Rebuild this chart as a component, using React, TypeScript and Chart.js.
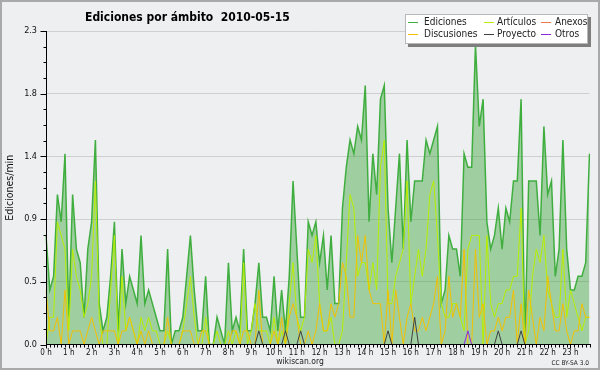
import React, { useEffect, useRef } from 'react';
import { Chart, registerables } from 'chart.js';

Chart.register(...registerables);

const FONT = '"DejaVu Sans Condensed", "DejaVu Sans", sans-serif';
const BG = '#eeeff1';

const TITLE = 'Ediciones por ámbito  2010-05-15';
const Y_TITLE = 'Ediciones/min';
const SOURCE = 'wikiscan.org';
const LICENSE = 'CC BY-SA 3.0';

const HOUR_LABELS = ['0 h', '1 h', '2 h', '3 h', '4 h', '5 h', '6 h', '7 h', '8 h', '9 h', '10 h', '11 h',
  '12 h', '13 h', '14 h', '15 h', '16 h', '17 h', '18 h', '19 h', '20 h', '21 h', '22 h', '23 h'];
const SLOT_MINUTES = ['00', '10', '20', '30', '40', '50'];
const Y_TICK_LABELS = ['0.0', '0.5', '0.9', '1.4', '1.8', '2.3'];
const Y_MAX = 2.3;
const Y_MINOR_STEP = 0.115;

const SERIES_NAMES = ['Ediciones', 'Artículos', 'Anexos', 'Discusiones', 'Proyecto', 'Otros'];
const SERIES_COLORS = ['#3fae3f', '#b8ee00', '#f07848', '#f2c000', '#404040', '#8a2be2'];
const EDICIONES_FILL = 'rgba(50,160,50,0.42)';

// 10-minute slots, edits per minute
const EDICIONES = [
  0.8, 0.4, 0.5, 1.1, 0.9, 1.4, 0.2, 1.1, 0.7, 0.6, 0.2, 0.7, 0.9, 1.5, 0.3, 0.1, 0.2, 0.5, 0.9, 0.1, 0.7, 0.3, 0.5, 0.4,
  0.3, 0.8, 0.3, 0.4, 0.3, 0.2, 0.1, 0.1, 0.7, 0.0, 0.1, 0.1, 0.2, 0.5, 0.8, 0.4, 0.1, 0.1, 0.5, 0.0, 0.0, 0.2, 0.1, 0.0,
  0.6, 0.1, 0.2, 0.1, 0.7, 0.1, 0.1, 0.3, 0.6, 0.2, 0.2, 0.1, 0.5, 0.1, 0.4, 0.1, 0.5, 1.2, 0.7, 0.2, 0.2, 0.9, 0.8, 0.9,
  0.6, 0.8, 0.4, 0.8, 0.3, 0.3, 1.0, 1.3, 1.5, 1.4, 1.6, 1.5, 1.9, 0.9, 1.4, 1.1, 1.8, 1.9, 1.0, 0.6, 1.0, 1.4, 0.7, 1.5,
  0.9, 1.2, 1.2, 1.2, 1.5, 1.4, 1.5, 1.6, 0.3, 0.4, 0.8, 0.7, 0.7, 0.5, 1.4, 1.3, 1.3, 2.2, 1.6, 1.8, 0.9, 0.7, 0.8, 1.0,
  0.7, 1.0, 0.9, 1.2, 1.2, 1.8, 0.0, 1.2, 1.2, 1.2, 0.8, 1.6, 1.1, 1.2, 0.5, 0.7, 1.5, 0.7, 0.4, 0.4, 0.5, 0.5, 0.6, 1.4,
];
const ARTICULOS = [
  0.0, 0.2, 0.2, 0.9, 0.8, 0.7, 0.1, 0.7, 0.5, 0.4, 0.2, 0.3, 0.5, 1.2, 0.2, 0.0, 0.0, 0.4, 0.8, 0.0, 0.5, 0.1, 0.2, 0.1,
  0.0, 0.2, 0.1, 0.2, 0.1, 0.1, 0.0, 0.0, 0.1, 0.0, 0.0, 0.0, 0.1, 0.3, 0.5, 0.2, 0.0, 0.0, 0.2, 0.0, 0.0, 0.1, 0.0, 0.0,
  0.1, 0.0, 0.1, 0.0, 0.6, 0.0, 0.1, 0.3, 0.1, 0.1, 0.1, 0.0, 0.2, 0.0, 0.1, 0.0, 0.3, 0.6, 0.2, 0.1, 0.2, 0.7, 0.6, 0.8,
  0.3, 0.1, 0.1, 0.2, 0.0, 0.0, 0.1, 0.6, 1.1, 1.0, 0.5, 0.6, 0.6, 0.4, 0.6, 0.4, 1.3, 1.5, 0.3, 0.3, 0.5, 0.6, 0.7, 1.2,
  0.3, 0.5, 0.7, 0.5, 0.7, 1.1, 1.2, 0.8, 0.3, 0.2, 0.2, 0.3, 0.3, 0.2, 0.1, 0.7, 0.8, 0.8, 0.8, 0.0, 0.8, 0.3, 0.2, 0.3,
  0.3, 0.4, 0.4, 0.5, 0.5, 1.0, 0.0, 0.1, 0.5, 0.7, 0.6, 0.8, 0.4, 0.3, 0.2, 0.2, 0.7, 0.2, 0.4, 0.3, 0.2, 0.1, 0.2, 0.2,
];
const ANEXOS = [
  0, 0, 0, 0, 0, 0, 0, 0, 0, 0, 0, 0, 0, 0, 0, 0, 0, 0, 0, 0, 0, 0, 0, 0,
  0, 0, 0, 0, 0, 0, 0, 0, 0, 0, 0, 0, 0, 0, 0, 0, 0, 0, 0, 0, 0, 0, 0, 0,
  0, 0, 0, 0, 0, 0, 0, 0, 0, 0, 0, 0, 0, 0, 0, 0, 0, 0, 0, 0, 0, 0, 0, 0,
  0, 0, 0, 0, 0, 0, 0, 0, 0, 0, 0, 0, 0, 0, 0, 0, 0, 0, 0, 0, 0, 0, 0, 0,
  0, 0, 0, 0, 0, 0, 0, 0, 0, 0, 0, 0, 0, 0, 0, 0, 0, 0, 0, 0, 0, 0, 0, 0,
  0, 0, 0, 0, 0, 0, 0, 0, 0, 0, 0, 0, 0, 0, 0, 0, 0, 0, 0, 0, 0, 0, 0, 0,
];
const DISCUSIONES = [
  0.4, 0.1, 0.1, 0.2, 0.0, 0.4, 0.0, 0.1, 0.1, 0.1, 0.0, 0.1, 0.2, 0.1, 0.0, 0.1, 0.1, 0.1, 0.1, 0.0, 0.1, 0.1, 0.2, 0.1,
  0.0, 0.1, 0.0, 0.1, 0.0, 0.0, 0.0, 0.0, 0.2, 0.0, 0.0, 0.0, 0.1, 0.1, 0.1, 0.0, 0.0, 0.1, 0.1, 0.0, 0.0, 0.0, 0.0, 0.0,
  0.0, 0.1, 0.1, 0.0, 0.1, 0.1, 0.0, 0.0, 0.4, 0.0, 0.0, 0.0, 0.1, 0.0, 0.2, 0.0, 0.2, 0.3, 0.2, 0.0, 0.0, 0.1, 0.0, 0.1,
  0.3, 0.1, 0.1, 0.3, 0.2, 0.3, 0.6, 0.5, 0.2, 0.2, 0.8, 0.6, 0.8, 0.4, 0.3, 0.3, 0.3, 0.0, 0.4, 0.0, 0.4, 0.2, 0.0, 0.2,
  0.3, 0.1, 0.1, 0.2, 0.1, 0.2, 0.3, 0.5, 0.0, 0.1, 0.5, 0.2, 0.3, 0.2, 0.7, 0.0, 0.0, 0.7, 0.2, 0.3, 0.0, 0.1, 0.1, 0.2,
  0.1, 0.2, 0.2, 0.4, 0.0, 0.3, 0.0, 0.4, 0.2, 0.0, 0.2, 0.1, 0.5, 0.3, 0.1, 0.1, 0.3, 0.1, 0.0, 0.1, 0.1, 0.3, 0.2, 0.2,
];
const PROYECTO = [
  0, 0, 0, 0, 0, 0, 0, 0, 0, 0, 0, 0, 0, 0, 0, 0, 0, 0, 0, 0, 0, 0, 0, 0,
  0, 0, 0, 0, 0, 0, 0, 0, 0, 0, 0, 0, 0, 0, 0, 0, 0, 0, 0, 0, 0, 0, 0, 0,
  0, 0, 0, 0, 0, 0, 0, 0, 0.1, 0, 0, 0, 0, 0, 0, 0.1, 0, 0, 0, 0.1, 0, 0, 0, 0,
  0, 0, 0, 0, 0, 0, 0, 0, 0, 0, 0, 0, 0, 0, 0, 0, 0, 0, 0.1, 0, 0, 0, 0, 0,
  0, 0.2, 0, 0, 0, 0, 0, 0, 0, 0, 0, 0, 0, 0, 0, 0, 0, 0, 0, 0, 0, 0, 0, 0.1,
  0, 0, 0, 0, 0, 0.1, 0, 0, 0, 0, 0, 0, 0, 0, 0, 0, 0, 0, 0, 0, 0, 0, 0, 0,
];
const OTROS = [
  0, 0, 0, 0, 0, 0, 0, 0, 0, 0, 0, 0, 0, 0, 0, 0, 0, 0, 0, 0, 0, 0, 0, 0,
  0, 0, 0, 0, 0, 0, 0, 0, 0, 0, 0, 0, 0, 0, 0, 0, 0, 0, 0, 0, 0, 0, 0, 0,
  0, 0, 0, 0, 0, 0, 0, 0, 0, 0, 0, 0, 0, 0, 0, 0, 0, 0, 0, 0, 0, 0, 0, 0,
  0, 0, 0, 0, 0, 0, 0, 0, 0, 0, 0, 0, 0, 0, 0, 0, 0, 0, 0, 0, 0, 0, 0, 0,
  0, 0, 0, 0, 0, 0, 0, 0, 0, 0, 0, 0, 0, 0, 0, 0.1, 0, 0, 0, 0, 0, 0, 0, 0,
  0, 0, 0, 0, 0, 0, 0, 0, 0, 0, 0, 0, 0, 0, 0, 0, 0, 0, 0, 0, 0, 0, 0, 0,
];

const minorIndex = (v: number) => Math.round(v / Y_MINOR_STEP);

const decorPlugin = {
  id: 'decor',
  beforeDraw(chart: any) {
    const { ctx, width, height } = chart;
    ctx.save();
    ctx.fillStyle = BG;
    ctx.fillRect(0, 0, width, height);
    ctx.restore();
  },
  afterDatasetsDraw(chart: any) {
    const { ctx, chartArea: a, scales } = chart;
    const xs = scales.x;
    const ys = scales.y;
    ctx.save();
    ctx.strokeStyle = '#000';
    ctx.lineWidth = 1;
    ctx.beginPath();
    const axX = Math.floor(a.left) + 0.5;
    const axY = Math.floor(a.bottom) + 0.5;
    ctx.moveTo(axX, Math.round(a.top));
    ctx.lineTo(axX, axY);
    ctx.lineTo(Math.round(a.right) + 1, axY);
    // y ticks
    ys.ticks.forEach((t: any) => {
      const py = Math.round(ys.getPixelForValue(t.value)) + 0.5;
      const major = minorIndex(t.value) % 4 === 0;
      ctx.moveTo(axX - (major ? 6 : 3), py);
      ctx.lineTo(axX, py);
    });
    // x ticks
    for (let i = 0; i < xs.ticks.length; i++) {
      const px = Math.round(xs.getPixelForTick(i)) + 0.5;
      const major = i % 6 === 0;
      ctx.moveTo(px, axY);
      ctx.lineTo(px, axY + (major ? 4 : 3));
    }
    ctx.stroke();
    ctx.restore();
  },
  afterDraw(chart: any) {
    const { ctx, data } = chart;
    ctx.save();
    // title
    ctx.fillStyle = '#000';
    ctx.font = `bold 12px ${FONT}`;
    ctx.textAlign = 'left';
    ctx.textBaseline = 'alphabetic';
    ctx.fillText(TITLE, 85, 21);
    // footer
    ctx.font = `8.5px ${FONT}`;
    ctx.textAlign = 'center';
    ctx.textBaseline = 'middle';
    ctx.fillStyle = '#222';
    ctx.fillText(SOURCE, 300, 362);
    ctx.font = `6.5px ${FONT}`;
    ctx.textAlign = 'right';
    ctx.fillText(LICENSE, 589, 363);

    // legend
    const LX = 405, LY = 14, LW = 183, LH = 30;
    ctx.fillStyle = '#7e7e7e';
    ctx.fillRect(LX + 3, LY + 3, LW, LH);
    ctx.fillStyle = '#ffffff';
    ctx.fillRect(LX, LY, LW, LH);
    ctx.strokeStyle = '#b8b8b8';
    ctx.lineWidth = 1;
    ctx.strokeRect(LX + 0.5, LY + 0.5, LW - 1, LH - 1);
    const swX = [408, 484, 541];
    const txX = [424, 497, 555];
    const rowY = [22, 34];
    ctx.font = `10px ${FONT}`;
    ctx.textAlign = 'left';
    ctx.textBaseline = 'middle';
    data.datasets.forEach((ds: any, k: number) => {
      const col = k % 3;
      const row = Math.floor(k / 3);
      ctx.strokeStyle = ds.borderColor;
      ctx.lineWidth = 1;
      ctx.beginPath();
      ctx.moveTo(swX[col], rowY[row] + 0.5);
      ctx.lineTo(swX[col] + 10, rowY[row] + 0.5);
      ctx.stroke();
      ctx.fillStyle = '#222';
      ctx.fillText(ds.label, txX[col], rowY[row]);
    });

    // frame
    ctx.strokeStyle = '#a9a9a9';
    ctx.lineWidth = 2;
    ctx.strokeRect(1, 1, chart.width - 2, chart.height - 2);
    ctx.restore();
  },
};

export default function App() {
  const ref = useRef<HTMLCanvasElement>(null);

  useEffect(() => {
    const canvas = ref.current;
    if (!canvas) return;
    const labels = HOUR_LABELS.flatMap((h) => SLOT_MINUTES.map((m) => `${parseInt(h, 10)}:${m}`));
    const series = [EDICIONES, ARTICULOS, ANEXOS, DISCUSIONES, PROYECTO, OTROS];
    const chart = new Chart(canvas, {
      type: 'line',
      data: {
        labels,
        datasets: series.map((d, k) => ({
          label: SERIES_NAMES[k],
          data: d,
          borderColor: SERIES_COLORS[k],
          backgroundColor: k === 0 ? EDICIONES_FILL : 'rgba(0,0,0,0)',
          fill: k === 0 ? 'origin' : false,
          borderWidth: k === 0 ? 1.5 : 1,
          pointRadius: 0,
          pointHoverRadius: 0,
          tension: 0,
          order: 6 - k,
        })),
      },
      options: {
        animation: false,
        responsive: false,
        devicePixelRatio: 1,
        events: [],
        layout: { padding: { top: 31, right: 10.5, left: 0, bottom: 0 } },
        plugins: {
          legend: { display: false },
          title: { display: false },
          tooltip: { enabled: false },
        },
        scales: {
          x: {
            type: 'category',
            offset: false,
            grid: { display: false, drawTicks: false },
            border: { display: false },
            ticks: {
              autoSkip: false,
              maxRotation: 0,
              minRotation: 0,
              padding: 4,
              color: '#111',
              font: { family: FONT, size: 8 },
              callback: (_v: any, i: number) => (i % 6 === 0 ? HOUR_LABELS[i / 6] : ''),
            },
            afterFit: (s: any) => { s.height = 25.5; },
          },
          y: {
            min: 0,
            max: Y_MAX,
            grid: {
              drawTicks: false,
              lineWidth: 1,
              color: (c: any) => (c.tick && minorIndex(c.tick.value) % 4 === 0 ? '#cfcfcf' : 'rgba(0,0,0,0)'),
            },
            border: { display: false },
            ticks: {
              stepSize: Y_MINOR_STEP,
              padding: 9,
              color: '#111',
              font: { family: FONT, size: 9 },
              callback: (v: any) => {
                const k = minorIndex(Number(v));
                return k % 4 === 0 ? Y_TICK_LABELS[k / 4] : '';
              },
            },
            title: {
              display: true,
              text: Y_TITLE,
              color: '#111',
              font: { family: FONT, size: 10.5 },
              padding: { top: 4, bottom: 0 },
            },
            afterFit: (s: any) => { s.width = 46; },
          },
        },
      },
      plugins: [decorPlugin],
    } as any);
    return () => chart.destroy();
  }, []);

  return (
    <div style={{ position: 'fixed', left: 0, top: 0, width: 600, height: 370 }}>
      <canvas ref={ref} width={600} height={370} style={{ display: 'block', width: 600, height: 370 }} />
    </div>
  );
}
